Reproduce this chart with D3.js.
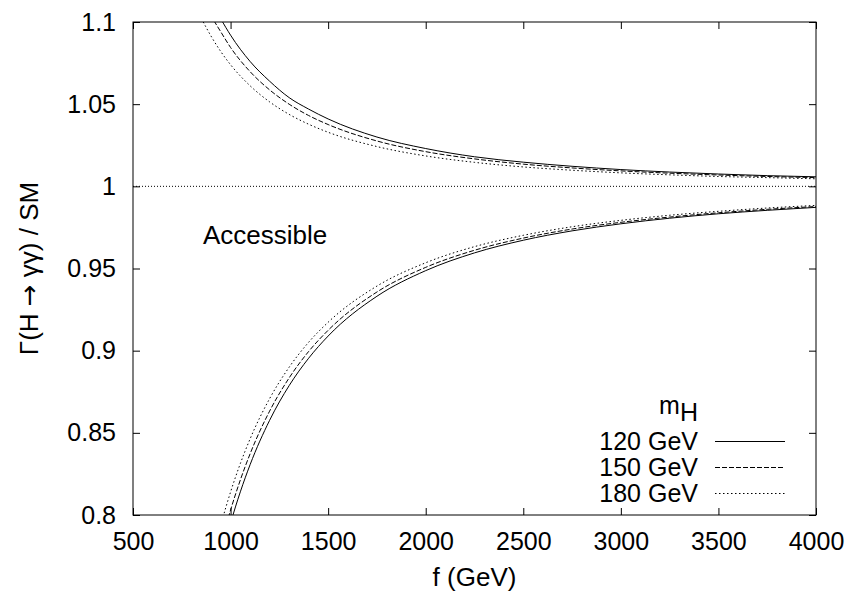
<!DOCTYPE html>
<html>
<head>
<meta charset="utf-8">
<script src="https://cdn.jsdelivr.net/npm/d3@7"></script>
<style>
  html, body { margin: 0; padding: 0; background: #fff; }
  svg { display: block; }
  text { font-family: "Liberation Sans", Arial, Helvetica, sans-serif; fill: #000; }
</style>
</head>
<body>
<svg id="chart" width="849" height="595"></svg>
<script>
// ---- data ----
const xTicks = [500, 1000, 1500, 2000, 2500, 3000, 3500, 4000];
const yTicks = [0.8, 0.85, 0.9, 0.95, 1, 1.05, 1.1];
const yTickLabels = ["0.8", "0.85", "0.9", "0.95", "1", "1.05", "1.1"];

const fUpper = [800, 850, 900, 950, 1000, 1100, 1200, 1300, 1400, 1500, 1750, 2000, 2250, 2500, 2750, 3000, 3250, 3500, 3750, 4000];
const upper120 = [1.144, 1.127, 1.114, 1.102, 1.092, 1.076, 1.064, 1.054, 1.047, 1.041, 1.030, 1.023, 1.018, 1.0147, 1.0122, 1.0102, 1.0087, 1.0075, 1.0065, 1.0058];
const upper150 = [1.132, 1.117, 1.104, 1.094, 1.0845, 1.0698, 1.0587, 1.0500, 1.0431, 1.0376, 1.0276, 1.0211, 1.0167, 1.0135, 1.0112, 1.0094, 1.0080, 1.0069, 1.0060, 1.0053];
const upper180 = [1.1156, 1.1024, 1.0914, 1.0820, 1.074, 1.0612, 1.0514, 1.0438, 1.0378, 1.0329, 1.0242, 1.0185, 1.0146, 1.0118, 1.0098, 1.0082, 1.0070, 1.0060, 1.0053, 1.0046];

const fLower = [900, 950, 1000, 1050, 1100, 1200, 1300, 1400, 1500, 1750, 2000, 2250, 2500, 2750, 3000, 3250, 3500, 3750, 4000];
const lower120 = [0.7469, 0.7729, 0.795, 0.8141, 0.8306, 0.8576, 0.8787, 0.8954, 0.9089, 0.9331, 0.9487, 0.9595, 0.9672, 0.9729, 0.9772, 0.9806, 0.9833, 0.9854, 0.9872];
const lower150 = [0.7568, 0.7817, 0.803, 0.8213, 0.8372, 0.8632, 0.8834, 0.8995, 0.9124, 0.9357, 0.9507, 0.9611, 0.9685, 0.9740, 0.9781, 0.9813, 0.9839, 0.9860, 0.9877];
const lower180 = [0.7704, 0.7939, 0.814, 0.8313, 0.8463, 0.8708, 0.8899, 0.9051, 0.9173, 0.9393, 0.9535, 0.9633, 0.9702, 0.9754, 0.9793, 0.9824, 0.9848, 0.9868, 0.9884];

const smValue = 1.0;
const legendLabels = ["120 GeV", "150 GeV", "180 GeV"];

// ---- layout ----
const svg = d3.select("#chart");
const L = 133, R = 816, T = 22, B = 515;
const x = d3.scaleLinear().domain([500, 4000]).range([L, R]);
const y = d3.scaleLinear().domain([0.8, 1.1]).range([B, T]);
const dashes = [null, "5,2", "1.5,2.5"];
const tickFont = 25, textFont = 26, legendFont = 25;

// clip
svg.append("defs").append("clipPath").attr("id", "clip")
  .append("rect").attr("x", L).attr("y", T).attr("width", R - L).attr("height", B - T);

// SM line
svg.append("line")
  .attr("x1", x(500)).attr("x2", x(4000))
  .attr("y1", y(smValue)).attr("y2", y(smValue))
  .attr("stroke", "#000").attr("stroke-width", 1).attr("stroke-dasharray", "1,2");

// curves
const line = d3.line().x(d => x(d[0])).y(d => y(d[1])).curve(d3.curveMonotoneX);
const series = [
  [fUpper, upper120, 0], [fUpper, upper150, 1], [fUpper, upper180, 2],
  [fLower, lower120, 0], [fLower, lower150, 1], [fLower, lower180, 2]
];
const g = svg.append("g").attr("clip-path", "url(#clip)");
series.forEach(([fs, vs, k]) => {
  g.append("path")
    .datum(fs.map((f, i) => [f, vs[i]]))
    .attr("d", line)
    .attr("fill", "none")
    .attr("stroke", "#000")
    .attr("stroke-width", 1)
    .attr("stroke-dasharray", dashes[k]);
});

// axes
function styleAxis(sel) {
  sel.select(".domain").remove();
  sel.selectAll(".tick line").attr("stroke", "#000").attr("stroke-width", 1);
  sel.selectAll(".tick text").attr("font-size", tickFont).attr("font-family", '"Liberation Sans", Arial, sans-serif');
}
svg.append("g").attr("transform", `translate(0,${B})`)
  .call(d3.axisBottom(x).tickValues(xTicks).tickSize(-7).tickPadding(17).tickFormat(d => String(d)))
  .call(styleAxis);
svg.append("g").attr("transform", `translate(0,${T})`)
  .call(d3.axisTop(x).tickValues(xTicks).tickSize(-7).tickFormat(""))
  .call(styleAxis);
svg.append("g").attr("transform", `translate(${L},0)`)
  .call(d3.axisLeft(y).tickValues(yTicks).tickSize(-7).tickPadding(17).tickFormat((d, i) => yTickLabels[i]))
  .call(styleAxis);
svg.append("g").attr("transform", `translate(${R},0)`)
  .call(d3.axisRight(y).tickValues(yTicks).tickSize(-7).tickFormat(""))
  .call(styleAxis);

// frame
svg.append("rect").attr("x", L).attr("y", T).attr("width", R - L).attr("height", B - T)
  .attr("fill", "none").attr("stroke", "#000").attr("stroke-width", 1);

// axis titles
svg.append("text").attr("x", (L + R) / 2).attr("y", 586)
  .attr("text-anchor", "middle").attr("font-size", textFont).text("f (GeV)");
const yl = svg.append("text")
  .attr("transform", `translate(38,${(T + B) / 2}) rotate(-90)`)
  .attr("text-anchor", "middle").attr("font-size", textFont);
yl.append("tspan").text("Γ(H ");
yl.append("tspan").attr("font-family", '"DejaVu Sans", sans-serif').text("→");
yl.append("tspan").text(" γγ) / SM");

// annotation
svg.append("text").attr("x", 203).attr("y", 244).attr("font-size", textFont).text("Accessible");

// legend
const lgX = 698, lineX1 = 715, lineX2 = 785;
const rowY = [441.5, 467.5, 493.5];
const title = svg.append("text").attr("x", lgX).attr("y", 414).attr("text-anchor", "end").attr("font-size", legendFont);
title.append("tspan").text("m");
title.append("tspan").attr("dy", 7).text("H");
legendLabels.forEach((lab, i) => {
  svg.append("text").attr("x", lgX).attr("y", rowY[i]).attr("dy", "0.35em")
    .attr("text-anchor", "end").attr("font-size", legendFont).text(lab);
  svg.append("line").attr("x1", lineX1).attr("x2", lineX2).attr("y1", rowY[i]).attr("y2", rowY[i])
    .attr("stroke", "#000").attr("stroke-width", 1).attr("stroke-dasharray", dashes[i]);
});
</script>
</body>
</html>
